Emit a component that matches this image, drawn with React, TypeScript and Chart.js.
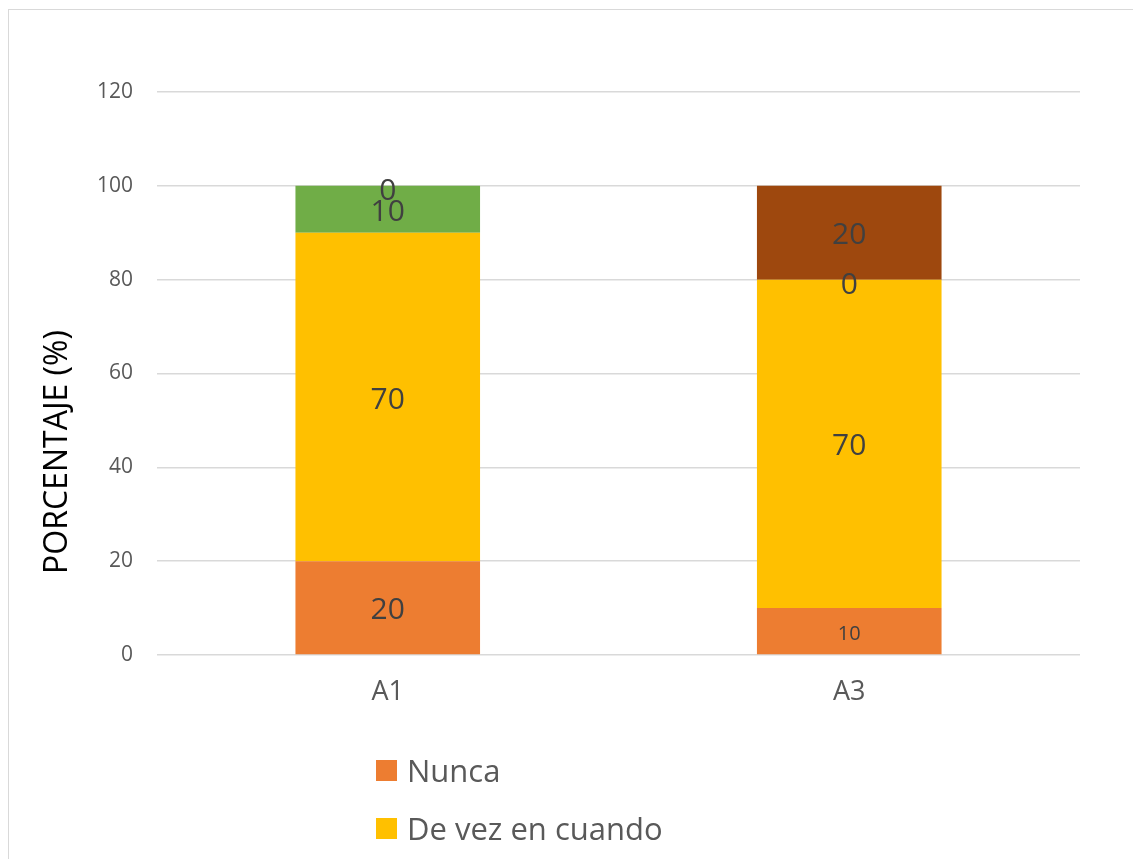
import React, { useEffect, useRef } from "react";
import { Chart, registerables } from "chart.js";

Chart.register(...registerables);

const categories = ["A1", "A3"];
const seriesNames = ["Nunca", "De vez en cuando", "Casi siempre", "Siempre"];
const nunca = [20, 10];
const deVezEnCuando = [70, 70];
const casiSiempre = [10, 0];
const siempre = [0, 20];
const yTicks = [0, 20, 40, 60, 80, 100, 120];
const yTitle = "PORCENTAJE (%)";

const colors = ["#ED7D31", "#FFC000", "#70AD47", "#9E480E"];
const labelSizes = [[30, 20], [30, 30], [30, 30], [30, 30]];

const FONT = "'Open Sans', 'Noto Sans', sans-serif";

export default function App() {
  const ref = useRef<HTMLCanvasElement | null>(null);

  useEffect(() => {
    document.body.style.overflow = "hidden";
    const canvas = ref.current;
    if (!canvas) return;
    const values = [nunca, deVezEnCuando, casiSiempre, siempre];

    const labelPlugin = {
      id: "segLabels",
      afterDatasetsDraw(chart: any) {
        const ctx = chart.ctx;
        ctx.save();
        ctx.textAlign = "center";
        ctx.textBaseline = "middle";
        ctx.fillStyle = "#404040";
        chart.data.datasets.forEach((ds: any, di: number) => {
          const meta = chart.getDatasetMeta(di);
          meta.data.forEach((el: any, i: number) => {
            const v = ds.data[i];
            ctx.font = `${labelSizes[di][i]}px ${FONT}`;
            const off = v === 0 ? 6 : 3;
            ctx.fillText(String(v), el.x, (el.y + el.base) / 2 + off);
          });
        });
        ctx.restore();
      },
    };

    const titlePlugin = {
      id: "yTitle",
      afterDraw(chart: any) {
        const ctx = chart.ctx;
        ctx.save();
        ctx.translate(49, 442);
        ctx.rotate(-Math.PI / 2);
        ctx.textAlign = "center";
        ctx.textBaseline = "middle";
        ctx.fillStyle = "#000000";
        ctx.font = `32px ${FONT}`;
        ctx.fillText(yTitle, 0, 0);
        ctx.restore();
      },
    };

    const chart = new Chart(canvas, {
      type: "bar",
      data: {
        labels: categories,
        datasets: values.map((d, i) => ({
          label: seriesNames[i],
          data: d,
          backgroundColor: colors[i],
          borderWidth: 0,
          categoryPercentage: 1,
          barPercentage: 0.4,
        })),
      },
      options: {
        responsive: false,
        animation: false,
        layout: { padding: { top: 82, right: 53, bottom: 0, left: 0 } },
        plugins: {
          legend: { display: false },
          tooltip: { enabled: false },
        },
        scales: {
          x: {
            stacked: true,
            grid: { display: false, drawTicks: false },
            border: { display: false },
            ticks: { color: "#595959", font: { family: FONT, size: 27 }, padding: 21 },
            afterFit: (s: any) => {
              s.height = 95;
            },
          },
          y: {
            stacked: true,
            min: yTicks[0],
            max: yTicks[yTicks.length - 1],
            grid: { color: "#d9d9d9", lineWidth: 1.5, drawTicks: false },
            border: { display: false },
            afterBuildTicks: (s: any) => {
              s.ticks = yTicks.map((v) => ({ value: v }));
            },
            ticks: { color: "#595959", font: { family: FONT, size: 21 }, padding: 24 },
            afterFit: (s: any) => {
              s.width = 148;
            },
          },
        },
      },
      plugins: [labelPlugin, titlePlugin],
    });
    return () => chart.destroy();
  }, []);

  return (
    <div style={{ position: "relative", width: 1133, height: 851, overflow: "hidden" }}>
      <div
        style={{
          position: "absolute",
          top: 1,
          left: 0,
          width: 1200,
          height: 920,
          border: "1px solid #d9d9d9",
          boxSizing: "border-box",
          background: "#fff",
        }}
      >
        <canvas ref={ref} width={1124} height={740} style={{ position: "absolute", left: 0, top: 0, width: 1124, height: 740 }} />
        <div style={{ position: "absolute", left: 367, top: 731, display: "flex", flexDirection: "column" }}>
          {seriesNames.map((n, i) => (
            <div key={n} style={{ display: "flex", alignItems: "center", height: 58 }}>
              <span style={{ width: 21, height: 21, background: colors[i], marginRight: 10, display: "inline-block" }} />
              <span style={{ font: `31px ${FONT}`, color: "#595959", lineHeight: "58px", whiteSpace: "nowrap" }}>{n}</span>
            </div>
          ))}
        </div>
      </div>
    </div>
  );
}
